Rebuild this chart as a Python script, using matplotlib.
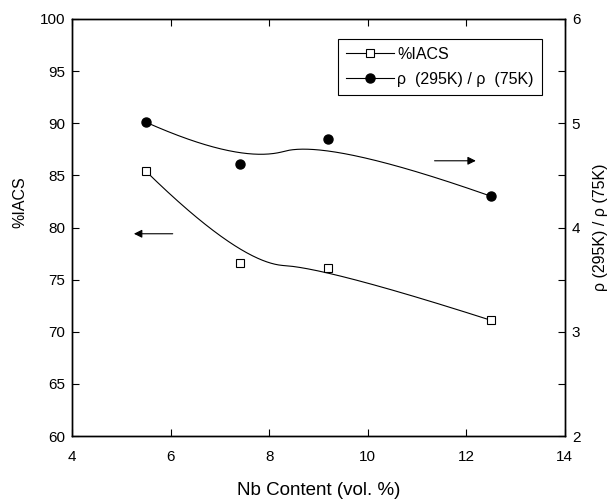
import numpy as np
import matplotlib
matplotlib.use("Agg")
import matplotlib.pyplot as plt
from matplotlib.lines import Line2D

plt.rcParams['font.family'] = ['Liberation Sans', 'DejaVu Sans']

# data
nb = [5.5, 7.4, 9.2, 12.5]
iacs = [85.4, 76.6, 76.1, 71.1]
ratio = [5.01, 4.61, 4.85, 4.30]


def bspline(xs, ys, k=2, n=300):
    # clamped B-spline with the data points as control points (Origin style)
    P = np.column_stack([xs, ys]).astype(float)
    m = len(P)
    knots = np.concatenate([np.zeros(k), np.linspace(0, 1, m - k + 1), np.ones(k)])
    out = []
    for u in np.linspace(0, 1, n):
        i = min(np.searchsorted(knots, u, side='right') - 1, m - 1)
        d = [P[j + i - k].copy() for j in range(k + 1)]
        for r in range(1, k + 1):
            for j in range(k, r - 1, -1):
                a = (u - knots[j + i - k]) / (knots[j + 1 + i - r] - knots[j + i - k])
                d[j] = (1 - a) * d[j - 1] + a * d[j]
        out.append(d[k])
    out = np.array(out)
    return out[:, 0], out[:, 1]


fig = plt.figure(figsize=(6.1, 5.0), dpi=100)
ax = fig.add_axes([0.118, 0.128, 0.808, 0.834])
ax2 = ax.twinx()

cx, cy = bspline(nb, iacs)
ax.plot(cx, cy, color='black', lw=0.8)
ax.plot(nb, iacs, linestyle='none', marker='s', markersize=6,
        markerfacecolor='white', markeredgecolor='black', markeredgewidth=0.8)

rx, ry = bspline(nb, ratio)
ax2.plot(rx, ry, color='black', lw=0.8)
ax2.plot(nb, ratio, linestyle='none', marker='o', markersize=6.5,
         color='black')

ax.set_xlim(4, 14)
ax.set_ylim(60, 100)
ax2.set_ylim(2, 6)
ax.set_xticks([4, 6, 8, 10, 12, 14])
ax.set_yticks(np.arange(60, 101, 5))
ax2.set_yticks([2, 3, 4, 5, 6])
ax2.set_yticks([2.5, 3.5, 4.5, 5.5], minor=True)

ax.tick_params(axis='both', direction='in', length=5, width=0.8,
               labelsize=11, top=True, pad=5)
ax.tick_params(axis='x', pad=10)
ax2.tick_params(axis='y', which='both', direction='in', length=5, width=0.8,
                labelsize=11, pad=5)

for a in (ax, ax2):
    for s in a.spines.values():
        s.set_linewidth(1.0)

ax.set_xlabel('Nb Content (vol. %)', fontsize=13.5, labelpad=13)
ax.set_ylabel('%IACS', fontsize=11.5, labelpad=9)
ax.yaxis.label.set_y(0.561)
ax2.set_ylabel('\u03c1 (295K) / \u03c1 (75K)', fontsize=11.5, labelpad=9)

# arrows pointing to the axes
ax.annotate('', xy=(5.2, 79.4), xytext=(6.1, 79.4),
            arrowprops=dict(arrowstyle='-|>', color='black', lw=0.8,
                            mutation_scale=12))
ax.annotate('', xy=(12.25, 86.4), xytext=(11.3, 86.4),
            arrowprops=dict(arrowstyle='-|>', color='black', lw=0.8,
                            mutation_scale=12))

handles = [
    Line2D([], [], color='black', lw=0.8, marker='s', markersize=6,
           markerfacecolor='white', markeredgecolor='black', markeredgewidth=0.8),
    Line2D([], [], color='black', lw=0.8, marker='o', markersize=6.5),
]
leg = ax2.legend(handles, ['%IACS', '\u03c1  (295K) / \u03c1  (75K)'],
                 loc='upper right', bbox_to_anchor=(0.953, 0.952),
                 fontsize=11.5, fancybox=False, framealpha=1,
                 edgecolor='black', handlelength=3.0, numpoints=1,
                 borderpad=0.5, labelspacing=0.6, handletextpad=0.2,
                 borderaxespad=0)
leg.get_frame().set_linewidth(0.8)

fig.savefig('out.png', dpi=100)
